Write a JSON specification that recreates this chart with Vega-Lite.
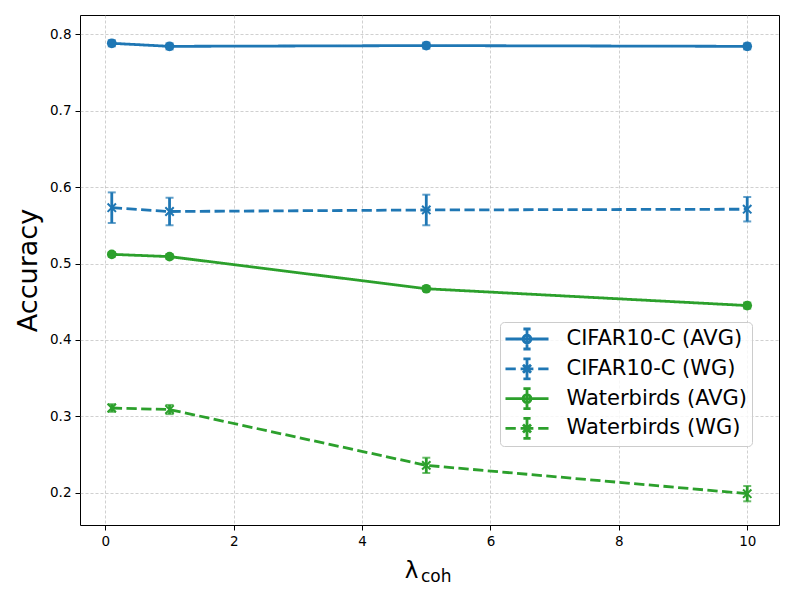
{
  "$schema": "https://vega.github.io/schema/vega-lite/v6.json",
  "autosize": "none",
  "width": 699,
  "height": 510,
  "padding": {"left": 80, "top": 15, "right": 21, "bottom": 75},
  "background": "white",
  "config": {
    "font": "DejaVu Sans",
    "view": {"stroke": "black", "strokeWidth": 1},
    "axis": {
      "domain": false,
      "grid": true,
      "gridColor": "#b0b0b0",
      "gridDash": [3, 2],
      "gridWidth": 0.6,
      "tickColor": "black",
      "tickSize": 5,
      "tickWidth": 1,
      "labelFont": "DejaVu Sans",
      "labelFontSize": 13.5,
      "labelColor": "black",
      "labelPadding": 4,
      "titleFont": "DejaVu Sans",
      "titleFontWeight": "normal",
      "titleColor": "black"
    }
  },
  "title": {
    "text": "coh",
    "orient": "bottom",
    "anchor": "start",
    "frame": "group",
    "dx": 341,
    "offset": 0,
    "baseline": "alphabetic",
    "fontSize": 17,
    "font": "DejaVu Sans",
    "fontWeight": "normal",
    "color": "black"
  },
  "data": {
    "values": [
      {"series": "CIFAR10-C (AVG)", "kind": "AVG", "lambda": 0.1, "acc": 0.788, "lo": 0.784, "hi": 0.792},
      {"series": "CIFAR10-C (AVG)", "kind": "AVG", "lambda": 1, "acc": 0.784, "lo": 0.780, "hi": 0.788},
      {"series": "CIFAR10-C (AVG)", "kind": "AVG", "lambda": 5, "acc": 0.785, "lo": 0.781, "hi": 0.789},
      {"series": "CIFAR10-C (AVG)", "kind": "AVG", "lambda": 10, "acc": 0.784, "lo": 0.780, "hi": 0.788},
      {"series": "CIFAR10-C (WG)", "kind": "WG", "lambda": 0.1, "acc": 0.573, "lo": 0.553, "hi": 0.593},
      {"series": "CIFAR10-C (WG)", "kind": "WG", "lambda": 1, "acc": 0.568, "lo": 0.550, "hi": 0.586},
      {"series": "CIFAR10-C (WG)", "kind": "WG", "lambda": 5, "acc": 0.570, "lo": 0.550, "hi": 0.590},
      {"series": "CIFAR10-C (WG)", "kind": "WG", "lambda": 10, "acc": 0.571, "lo": 0.555, "hi": 0.587},
      {"series": "Waterbirds (AVG)", "kind": "AVG", "lambda": 0.1, "acc": 0.512, "lo": 0.509, "hi": 0.515},
      {"series": "Waterbirds (AVG)", "kind": "AVG", "lambda": 1, "acc": 0.509, "lo": 0.506, "hi": 0.512},
      {"series": "Waterbirds (AVG)", "kind": "AVG", "lambda": 5, "acc": 0.467, "lo": 0.464, "hi": 0.470},
      {"series": "Waterbirds (AVG)", "kind": "AVG", "lambda": 10, "acc": 0.445, "lo": 0.441, "hi": 0.449},
      {"series": "Waterbirds (WG)", "kind": "WG", "lambda": 0.1, "acc": 0.311, "lo": 0.306, "hi": 0.316},
      {"series": "Waterbirds (WG)", "kind": "WG", "lambda": 1, "acc": 0.309, "lo": 0.303, "hi": 0.315},
      {"series": "Waterbirds (WG)", "kind": "WG", "lambda": 5, "acc": 0.236, "lo": 0.226, "hi": 0.246},
      {"series": "Waterbirds (WG)", "kind": "WG", "lambda": 10, "acc": 0.199, "lo": 0.189, "hi": 0.209}
    ]
  },
  "encoding": {
    "x": {
      "field": "lambda",
      "type": "quantitative",
      "scale": {"domain": [-0.395, 10.495], "nice": false, "zero": false},
      "axis": {
        "values": [0, 2, 4, 6, 8, 10],
        "format": "d",
        "title": "λ",
        "titleFontSize": 23,
        "titleX": 331,
        "titleAlign": "center",
        "titleY": 52,
        "titleBaseline": "alphabetic"
      }
    },
    "y": {
      "field": "acc",
      "type": "quantitative",
      "scale": {"domain": [0.158, 0.825], "nice": false, "zero": false},
      "axis": {
        "values": [0.2, 0.3, 0.4, 0.5, 0.6, 0.7, 0.8],
        "format": ".1f",
        "title": "Accuracy",
        "titleFontSize": 27,
        "titlePadding": 7
      }
    }
  },
  "layer": [
    {
      "mark": {"type": "line", "strokeWidth": 2.8},
      "encoding": {
        "stroke": {
          "field": "series",
          "type": "nominal",
          "scale": {"range": ["#1f77b4", "#1f77b4", "#2ca02c", "#2ca02c"]},
          "legend": null
        },
        "strokeDash": {
          "field": "series",
          "type": "nominal",
          "scale": {"range": [[1, 0], [10.3, 4.4], [1, 0], [10.3, 4.4]]},
          "legend": null
        }
      }
    },
    {
      "mark": {"type": "rule", "strokeWidth": 2.8},
      "encoding": {
        "y": {"field": "lo", "type": "quantitative"},
        "y2": {"field": "hi"},
        "stroke": {"field": "series", "type": "nominal", "legend": null}
      }
    },
    {
      "mark": {"type": "tick", "orient": "horizontal", "size": 8, "thickness": 2},
      "encoding": {
        "y": {"field": "lo", "type": "quantitative"},
        "fill": {
          "field": "series",
          "type": "nominal",
          "scale": {"range": ["#1f77b4", "#1f77b4", "#2ca02c", "#2ca02c"]},
          "legend": null
        }
      }
    },
    {
      "mark": {"type": "tick", "orient": "horizontal", "size": 8, "thickness": 2},
      "encoding": {
        "y": {"field": "hi", "type": "quantitative"},
        "fill": {"field": "series", "type": "nominal", "legend": null}
      }
    },
    {
      "transform": [{"filter": "datum.kind === 'AVG'"}],
      "mark": {"type": "point", "shape": "circle", "filled": true, "size": 94, "opacity": 1},
      "encoding": {
        "fill": {"field": "series", "type": "nominal", "legend": null}
      }
    },
    {
      "transform": [{"filter": "datum.kind === 'WG'"}],
      "mark": {"type": "point", "shape": "M-1,-1L1,1M-1,1L1,-1", "filled": false, "size": 70, "strokeWidth": 2, "opacity": 1},
      "encoding": {
        "stroke": {"field": "series", "type": "nominal", "legend": null}
      }
    },
    {
      "mark": {"type": "point", "filled": false, "opacity": 0},
      "encoding": {
        "color": {
          "field": "series",
          "type": "nominal",
          "scale": {
            "domain": ["CIFAR10-C (AVG)", "CIFAR10-C (WG)", "Waterbirds (AVG)", "Waterbirds (WG)"],
            "range": ["#1f77b4", "#1f77b4", "#2ca02c", "#2ca02c"]
          },
          "legend": {
            "title": null,
            "orient": "none",
            "legendX": 420,
            "legendY": 307,
            "padding": 5,
            "fillColor": "rgba(255,255,255,0.8)",
            "strokeColor": "#cccccc",
            "cornerRadius": 4,
            "labelFont": "DejaVu Sans",
            "labelFontSize": 21,
            "labelColor": "black",
            "labelLimit": 400,
            "labelOffset": 29,
            "symbolOffset": 11.5,
            "symbolSize": 256,
            "symbolStrokeWidth": 2.8,
            "clipHeight": 24,
            "rowPadding": 5.8,
            "encode": {
              "symbols": {
                "update": {
                  "opacity": {"value": 1},
                  "size": {"value": 256},
                  "strokeWidth": {"value": 2.8},
                  "shape": {"scale": "shape", "field": "value"},
                  "stroke": {"scale": "color", "field": "value"},
                  "fill": {"scale": "color", "field": "value"}
                }
              }
            }
          }
        },
        "shape": {
          "field": "series",
          "type": "nominal",
          "scale": {
            "domain": ["CIFAR10-C (AVG)", "CIFAR10-C (WG)", "Waterbirds (AVG)", "Waterbirds (WG)"],
            "range": [
              "M-2.69,0H2.69M0,-1.25V1.25M-0.45,-1.25H0.45M-0.45,1.25H0.45M0.5,0A0.5,0.5 0 1,1 -0.5,0A0.5,0.5 0 1,1 0.5,0Z",
              "M-2.69,0H-1.4M-0.8,0H0.8M1.4,0H2.69M0,-1.25V1.25M-0.45,-1.25H0.45M-0.45,1.25H0.45M-0.5,-0.5L0.5,0.5M-0.5,0.5L0.5,-0.5",
              "M-2.69,0H2.69M0,-1.25V1.25M-0.45,-1.25H0.45M-0.45,1.25H0.45M0.5,0A0.5,0.5 0 1,1 -0.5,0A0.5,0.5 0 1,1 0.5,0Z",
              "M-2.69,0H-1.4M-0.8,0H0.8M1.4,0H2.69M0,-1.25V1.25M-0.45,-1.25H0.45M-0.45,1.25H0.45M-0.5,-0.5L0.5,0.5M-0.5,0.5L0.5,-0.5"
            ]
          }
        }
      }
    }
  ]
}
